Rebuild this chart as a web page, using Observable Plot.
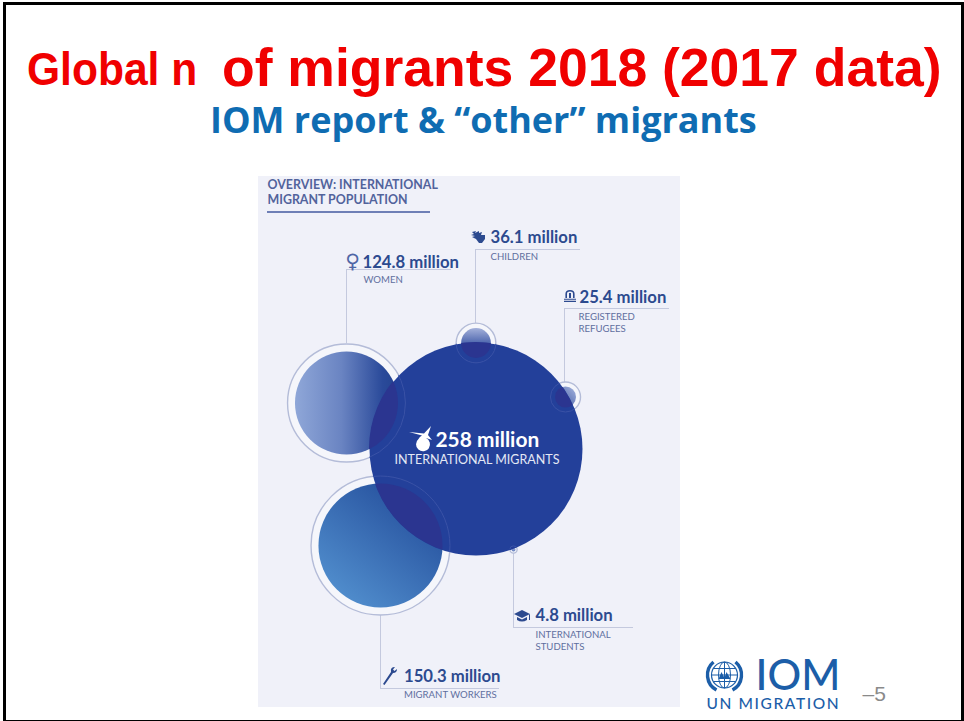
<!DOCTYPE html>
<html>
<head>
<meta charset="utf-8">
<script src="https://cdn.jsdelivr.net/npm/d3@7"></script>
<script src="https://cdn.jsdelivr.net/npm/@observablehq/plot@0.6"></script>
<style>
  html, body { margin: 0; padding: 0; background: #fff; }
  #slide { position: relative; width: 964px; height: 721px; box-sizing: border-box; overflow: hidden; }
  #frame { position: absolute; left: 3px; top: 2px; right: 0; bottom: 0; border: solid #000; border-width: 3px 3px 1px 3px; pointer-events: none; z-index: 3; }
  h1, h2 { position: absolute; margin: 0; white-space: nowrap; }
  #t1 { left: 27px; top: 42px; font: 700 46px "Liberation Sans", sans-serif; color: #f00000; transform: scaleX(0.925); transform-origin: left; }
  #t2 { left: 222px; top: 37px; font: 700 53.5px "Liberation Sans", sans-serif; color: #f00000; }
  #sub { left: 210px; top: 95px; font: 700 36px "Open Sans", sans-serif; color: #0f6cb2; }
  #chart { position: absolute; left: 0; top: 165px; }
</style>
</head>
<body>
<div id="slide">
  <h1 id="t1">Global n</h1>
  <h1 id="t2">of migrants 2018 (2017 data)</h1>
  <h2 id="sub">IOM report &amp; “other” migrants</h2>
  <div id="chart"></div>
  <div id="frame"></div>
</div>
<script>
// Migrant groups, in millions; every circle radius comes from these values.
const groups = ["women", "workers", "children", "refugees", "students", "migrants"];
const captions = [["WOMEN"], ["MIGRANT WORKERS"], ["CHILDREN"], ["REGISTERED", "REFUGEES"], ["INTERNATIONAL", "STUDENTS"], ["INTERNATIONAL MIGRANTS"]];
const millions = [124.8, 150.3, 36.1, 25.4, 4.8, 258];

// Where each circle sits on the page, and how far its outline ring stands off (same units as the values).
const centerX = [346, 380, 475.5, 565, 513, 475.5];
const centerY = [402.5, 545, 342.5, 396.5, 549, 448.5];
const ringGap = [18, 18, 12, 11, 4, 0];

// Call-out rule for each group: where it leaves the circle, the elbow, and its far end.
const leaderX = [346, 380, 475, 564, 513];
const leaderFrom = [343, 615, 323, 383, 552];
const leaderElbow = [269, 688, 249, 308, 627];
const leaderEnd = [451, 499, 580, 669, 633];

// Label anchors per group.
const labelX = [362, 403.5, 490, 579, 535, 435];
const labelY = [267, 681.5, 242.5, 302, 620.5, 446.5];
const captionX = [363, 403.5, 490, 578, 535, 394];
const captionY = [282, 697, 259.5, 319, 637, 463];

const heading = ["OVERVIEW: INTERNATIONAL", "MIGRANT POPULATION"];
const headingY = [188, 203];

const bubbles = groups.map((name, i) => ({
  name, value: millions[i], x: centerX[i], y: centerY[i], gap: ringGap[i]
}));
const small = bubbles.filter(d => d.name !== "migrants");
const main = bubbles.find(d => d.name === "migrants");

const leaders = leaderX.map((x, i) => ({x, from: leaderFrom[i], elbow: leaderElbow[i], end: leaderEnd[i]}));
const valueLabels = groups.map((name, i) => ({name, x: labelX[i], y: labelY[i], text: `${millions[i]} million`}));
const captionLabels = groups.flatMap((name, i) =>
  captions[i].map((text, k) => ({name, x: captionX[i], y: captionY[i] + k * 12.5, text})));

const ink = "#2c4a8f";
const soft = "#5f6f9f";
const font = "Lato, sans-serif";

// Shades for the five smaller circles, [offset, colour] stops along a direction.
const shades = {
  women:    {dir: [0, 0, 1, 0],   stops: [[0, "#8fa7d8"], [0.45, "#6a84c2"], [0.85, "#2a4a9a"], [1, "#24438f"]]},
  workers:  {dir: [0.1, 1, 0.9, 0], stops: [[0, "#5594d2"], [1, "#1f4796"]]},
  children: {dir: [0, 0, 0, 1],   stops: [[0, "#a3b0da"], [0.6, "#3f59a6"], [1, "#2f4a9c"]]},
  refugees: {dir: [1, 0, 0, 1],   stops: [[0, "#a7b6df"], [1, "#2b4697"]]},
  students: {dir: [0, 0, 0, 1],   stops: [[0, "#aab6dd"], [1, "#5f79bb"]]}
};

function gradientDefs() {
  const defs = d3.create("svg:defs");
  for (const [id, {dir, stops}] of Object.entries(shades)) {
    const g = defs.append("linearGradient").attr("id", `shade-${id}`)
      .attr("x1", dir[0]).attr("y1", dir[1]).attr("x2", dir[2]).attr("y2", dir[3]);
    for (const [o, c] of stops) g.append("stop").attr("offset", o).attr("stop-color", c);
  }
  return defs.node();
}

// Keeps a mark inside the big circle, so that overlaps can be tinted.
let clipCount = 0;
function insideMain(index, scales, values, dims, context, next) {
  const g = next(index, scales, values, dims, context);
  const id = `inside-main-${++clipCount}`;
  const clip = d3.create("svg:clipPath").attr("id", id);
  clip.append("circle").attr("cx", scales.x(main.x)).attr("cy", scales.y(main.y)).attr("r", scales.r(main.value));
  const wrap = d3.create("svg:g").attr("clip-path", `url(#${id})`);
  wrap.node().append(clip.node(), g);
  return wrap.node();
}

// Pictograms beside the labels, in local units around their anchor.
const icons = [
  {x: 522, y: 615, fill: ink, d: "M-8 -1 L0 -5 L8 -1 L0 3 Z M-5 2 L0 4.5 L5 2 L5 5 Q0 8 -5 5 Z M7 0 L7 5 L8 5 L8 -1 Z"},
  {x: 390, y: 676, fill: ink, d: "M-7 8 L-5.5 9 L3 -3 Q7 -3 7 -7 L4.5 -5 L3 -6.5 L5 -9 Q0 -9 1 -4 Z"},
  {x: 479, y: 237, fill: ink, d: "M-7 -5 L-3 -6 L-4 -4 L0 -6 L0 -4 L3 -5 L2 -2 L6 -2 L6 2 L3 6 L0 6 L-3 2 L-7 0 L-4 -1 L-8 -2 L-5 -3 Z"},
  {x: 570, y: 296, fill: ink, d: "M-6 6 H6 V4.8 H-6 Z M-6 3.8 H6 V2.8 H-6 Z M-4.6 2 V-2 Q-4.6 -6 0 -6 Q4.6 -6 4.6 -2 V2 H3 V-2 Q3 -4.4 0 -4.4 Q-3 -4.4 -3 -2 V2 Z M-1 2 V-3 H1 V2 Z"},
  {x: 423, y: 437, fill: "#fff", d: "M-14 -5 L1 -3.5 L8 -11 L5 -2 L9 3 L3 1 A7 7 0 1 1 -4.5 2 A7 7 0 0 1 -1 -1.5 Z"}
];
function iconMark(index, {x, y}) {
  const g = d3.create("svg:g");
  for (const ic of icons) g.append("path").attr("d", ic.d).attr("fill", ic.fill)
    .attr("transform", `translate(${x(ic.x)},${y(ic.y)})`);
  return g.node();
}

// Organisation emblem: a globe with meridians inside an open wreath.
const emblem = {x: 724.5, y: 675, r: 17};
function emblemMark(index, {x, y}) {
  const blue = "#1c5ea8";
  const g = d3.create("svg:g").attr("transform", `translate(${x(emblem.x)},${y(emblem.y)})`)
    .attr("fill", "none").attr("stroke", blue);
  g.append("circle").attr("r", 13).attr("stroke-width", 1.2);
  g.append("ellipse").attr("rx", 6).attr("ry", 13).attr("stroke-width", 1);
  g.append("path").attr("d", "M-13 0 H13 M-11 -6.5 H11 M-11 6.5 H11 M0 -13 V13").attr("stroke-width", 1);
  g.append("path").attr("d", "M-11 -13 A17 17 0 0 0 -8 15 M11 -13 A17 17 0 0 1 8 15")
    .attr("stroke-width", 3.4);
  g.append("path").attr("d", "M-6 4 L-3 -3 L0 3 L2 -3 L6 4 Z").attr("fill", blue).attr("stroke", "none");
  return g.node();
}

// Spreads the letters of a text mark.
const spaced = px => (index, scales, values, dims, context, next) => {
  const g = next(index, scales, values, dims, context);
  g.style.letterSpacing = `${px}px`;
  return g;
};

const plot = Plot.plot({
  width: 964,
  height: 552,
  margin: 0,
  x: {domain: [0, 964], range: [0, 964], axis: null},
  y: {domain: [165, 717], range: [0, 552], axis: null},
  r: {type: "linear", domain: [0, 258], range: [0, 106.5]},
  marks: [
    gradientDefs,
    // Panel behind the figure
    Plot.rect([{}], {x1: () => 258, x2: () => 680, y1: () => 176, y2: () => 707, fill: "#f0f1f9"}),

    // Heading and its underline
    Plot.text(heading, {x: () => 267, y: (d, i) => headingY[i], text: d => d, textAnchor: "start", lineAnchor: "bottom",
      fontFamily: font, fontWeight: 700, fontSize: 12.4, fill: "#52639c"}),
    Plot.ruleY([211.5], {x1: 267, x2: 430, stroke: "#6e7fb6", strokeWidth: 1.8}),

    // Call-out rules
    Plot.ruleX(leaders, {x: "x", y1: "from", y2: "elbow", stroke: "#c4c9de", strokeWidth: 1}),
    Plot.ruleY(leaders, {y: "elbow", x1: "x", x2: "end", stroke: "#c4c9de", strokeWidth: 1}),

    // Outline rings and shaded discs
    Plot.dot(small, {x: "x", y: "y", r: d => d.value + d.gap, fill: "#f5f6fb", stroke: "#b4bcd8", strokeWidth: 1.4}),
    ...small.map(d => Plot.dot([d], {x: "x", y: "y", r: "value", fill: `url(#shade-${d.name})`})),

    // The total, then its overlaps with each group
    Plot.dot([main], {x: "x", y: "y", r: "value", fill: "#23409a"}),
    Plot.dot(small, {x: "x", y: "y", r: "value", fill: "#2b3590", render: insideMain}),
    Plot.dot(small, {x: "x", y: "y", r: d => d.value + d.gap, fill: "none", stroke: "#3a52a6", strokeWidth: 1, render: insideMain}),

    iconMark,

    // Value labels and captions
    Plot.text(valueLabels.filter(d => d.name !== "migrants"), {x: "x", y: "y", text: "text", textAnchor: "start", lineAnchor: "bottom",
      fontFamily: font, fontWeight: 700, fontSize: 16.7, fill: ink}),
    Plot.text(valueLabels.filter(d => d.name === "migrants"), {x: "x", y: "y", text: "text", textAnchor: "start", lineAnchor: "bottom",
      fontFamily: font, fontWeight: 700, fontSize: 20.9, fill: "#fff"}),
    Plot.text(captionLabels.filter(d => d.name !== "migrants"), {x: "x", y: "y", text: "text", textAnchor: "start", lineAnchor: "bottom",
      fontFamily: font, fontSize: 9.6, fill: soft}),
    Plot.text(captionLabels.filter(d => d.name === "migrants"), {x: "x", y: "y", text: "text", textAnchor: "start", lineAnchor: "bottom",
      fontFamily: font, fontSize: 12.5, fill: "#e4e8f5"}),
    Plot.text(["♀"], {x: () => 352, y: () => 267, text: d => d, lineAnchor: "bottom", fontFamily: "DejaVu Sans", fontSize: 20, fill: "#4f66a6"}),

    // Organisation mark and page number
    emblemMark,
    Plot.text(["IOM"], {x: () => 755, y: () => 689, text: d => d, textAnchor: "start", lineAnchor: "bottom",
      fontFamily: "Lato, sans-serif", fontWeight: 500, fontSize: 42, fill: "#1c5ea8"}),
    Plot.text(["UN MIGRATION"], {x: () => 706, y: () => 708, text: d => d, textAnchor: "start", lineAnchor: "bottom",
      fontFamily: "Lato, sans-serif", fontWeight: 500, fontSize: 15.5, fill: "#1c5ea8", render: spaced(1.6)}),
    Plot.text(["–5"], {x: () => 862, y: () => 700, text: d => d, textAnchor: "start", lineAnchor: "bottom",
      fontFamily: "Liberation Sans, sans-serif", fontSize: 21, fill: "#8a8a8a"})
  ]
});
document.getElementById("chart").append(plot);
</script>
</body>
</html>
